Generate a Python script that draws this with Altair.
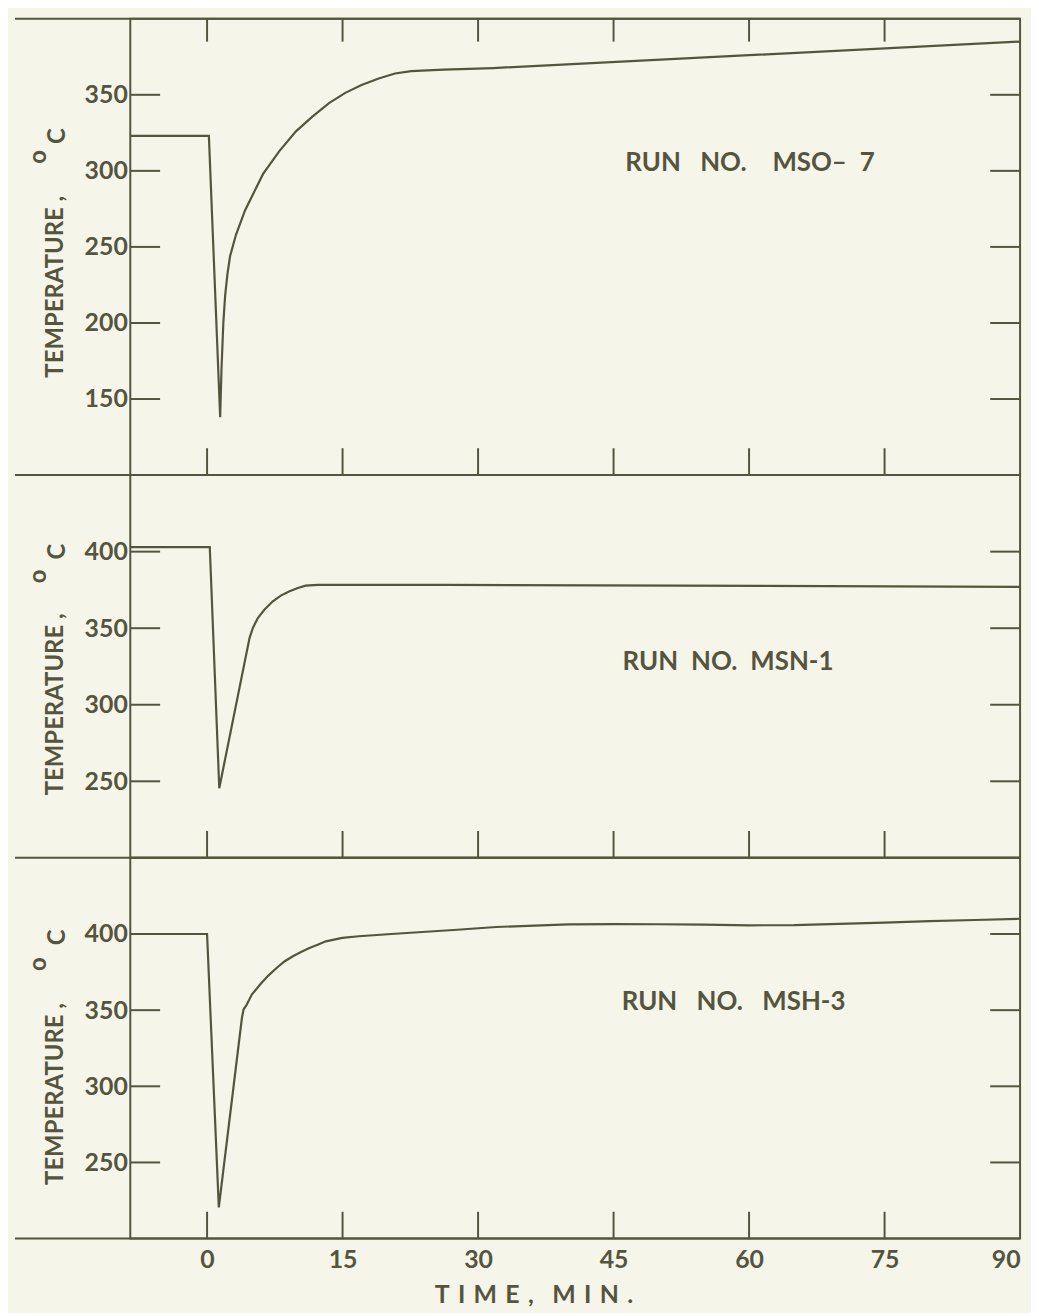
import altair as alt
import pandas as pd

# ---------------- data ----------------
time_ticks = [0, 15, 30, 45, 60, 75]
time_labels = [0, 15, 30, 45, 60, 75, 90]

mso7_t = [-8.5, 0.2, 1.45, 1.6, 1.8, 2.0, 2.25, 2.55, 3.2, 4.2, 6.2, 8.0, 9.84, 11.66,
          13.5, 15.3, 17.1, 19.0, 20.8, 22.6, 26.2, 31.7, 90.0]
mso7_T = [323, 323, 138, 170, 200, 218, 232, 244, 258, 274, 298, 313, 326, 335.7,
          344.6, 351.3, 356.5, 360.7, 364, 365.6, 366.6, 367.6, 385]

msn1_t = [-8.5, 0.3, 1.35, 4.7, 5.06, 5.6, 6.34, 7.25, 8.16, 9.07, 9.98, 10.9, 12.3, 26.5, 90.0]
msn1_T = [403, 403, 245.5, 343.5, 350, 356.5, 362, 367.4, 371.3, 374, 376.1, 377.8, 378.3, 378.3, 377]

msh3_t = [-8.5, 0.0, 1.3, 3.86, 4.04, 4.4, 4.95, 5.87, 6.78, 7.69, 8.6, 9.5, 10.4, 11.33,
          12.24, 13.15, 14.97, 16.8, 20.4, 27.7, 32, 40, 45, 50, 55, 60, 65, 70, 75, 80, 85, 90]
msh3_T = [400, 400, 220.5, 345, 350.4, 353.7, 360.2, 366.8, 372.7, 377.7, 382.1, 385.4, 388.2, 390.8,
          393, 395.2, 397.4, 398.5, 400, 402.8, 404.6, 406.3, 406.5, 406.4, 406.1, 405.7, 405.8,
          406.6, 407.5, 408.4, 409.2, 410]

ticks_mso7 = [150, 200, 250, 300, 350]
ticks_msn1 = [250, 300, 350, 400]
ticks_msh3 = [250, 300, 350, 400]

run_labels = ["RUN\u2002\u2005NO.\u2002\u2002MSO–\u2005\u20057",
              "RUN\u2002NO.\u2002MSN-1",
              "RUN\u2002\u2005NO.\u2002\u2005MSH-3"]
run_label_t = [46.3, 46.0, 45.9]
run_label_T = [305, 328, 355]

y_title = "TEMPERATURE ,"
TS = "\u2004"
x_title = TS.join("TIME,") + "\u2003" + TS.join("MIN.")

# ---------------- style ----------------
INK = "#55553f"
BG = "#f6f5ea"
FONT = "Lato"
WT = "bold"
W = 895
xscale = alt.Scale(domain=[-8.5, 90], nice=False, zero=False)
one = pd.DataFrame({"k": [0]})


def panel(t, T, ydom, yticks, H, label, lt, lT, top_ticks, bottom, tb, to, tc):
    yscale = alt.Scale(domain=ydom, nice=False, zero=False)
    df = pd.DataFrame({"t": t, "T": T})
    if bottom:
        xaxis = alt.Axis(values=time_labels, ticks=False, domain=False, grid=False,
                         labelFontSize=25, labelFont=FONT, labelColor=INK,
                         labelFontWeight=WT,
                         labelPadding=9, labelFlush=True, title=None)
    else:
        xaxis = None
    yaxis = alt.Axis(values=yticks, ticks=False, domain=False, grid=False,
                     labelFontSize=25, labelFont=FONT, labelColor=INK,
                     labelFontWeight=WT,
                     labelPadding=3, title=None)

    def X():
        return alt.X("t:Q", scale=xscale, axis=xaxis)

    def Y():
        return alt.Y("T:Q", scale=yscale, axis=yaxis)

    line = alt.Chart(df).mark_line(color=INK, strokeWidth=2.2).encode(x=X(), y=Y())
    xt = pd.DataFrame({"t": time_ticks})
    yt = pd.DataFrame({"T": yticks})
    layers = [line]
    layers.append(alt.Chart(xt).mark_rule(color=INK, strokeWidth=2).encode(
        x=X(), y=alt.value(H - 27), y2=alt.value(H)))
    if top_ticks:
        layers.append(alt.Chart(xt).mark_rule(color=INK, strokeWidth=2).encode(
            x=X(), y=alt.value(0), y2=alt.value(23)))
    layers.append(alt.Chart(yt).mark_rule(color=INK, strokeWidth=2).encode(
        y=Y(), x=alt.value(0), x2=alt.value(30)))
    layers.append(alt.Chart(yt).mark_rule(color=INK, strokeWidth=2).encode(
        y=Y(), x=alt.value(W - 30), x2=alt.value(W)))
    layers.append(alt.Chart(one).mark_rule(color=INK, strokeWidth=2).encode(
        x=alt.value(-116), x2=alt.value(W), y=alt.value(0)))
    if bottom:
        layers.append(alt.Chart(one).mark_rule(color=INK, strokeWidth=2).encode(
            x=alt.value(-116), x2=alt.value(W), y=alt.value(H)))
        layers.append(alt.Chart(one).mark_text(
            color=INK, font=FONT, fontSize=25, fontWeight="bold",
            align="center", baseline="middle").encode(
            x=alt.value(406), y=alt.value(H + 57), text=alt.value(x_title)))
    lab = pd.DataFrame({"t": [lt], "T": [lT], "label": [label]})
    layers.append(alt.Chart(lab).mark_text(
        color=INK, font=FONT, fontSize=26, fontWeight=WT,
        align="left", baseline="middle").encode(
        x=X(), y=Y(), text="label:N"))
    # y-axis title pieces
    layers.append(alt.Chart(one).mark_text(
        color=INK, font=FONT, fontSize=24, fontWeight=WT, angle=270, align="left",
        baseline="middle").encode(
        x=alt.value(-75), y=alt.value(tb), text=alt.value(y_title)))
    layers.append(alt.Chart(one).mark_text(
        color=INK, font=FONT, fontSize=24, fontWeight=WT, angle=270, align="center",
        baseline="middle").encode(
        x=alt.value(-92), y=alt.value(to), text=alt.value("o")))
    layers.append(alt.Chart(one).mark_text(
        color=INK, font=FONT, fontSize=24, fontWeight=WT, angle=270, align="center",
        baseline="middle").encode(
        x=alt.value(-73), y=alt.value(tc), text=alt.value("C")))
    return alt.layer(*layers).properties(width=W, height=H)


p1 = panel(mso7_t, mso7_T, [100, 400], ticks_mso7, 459, run_labels[0],
           run_label_t[0], run_label_T[0], True, False, 361, 139, 118)
p2 = panel(msn1_t, msn1_T, [200, 450], ticks_msn1, 385, run_labels[1],
           run_label_t[1], run_label_T[1], False, False, 322, 102, 77)
p3 = panel(msh3_t, msh3_T, [200, 450], ticks_msh3, 383, run_labels[2],
           run_label_t[2], run_label_T[2], False, True, 329, 107, 80)

chart = alt.vconcat(p1, p2, p3, spacing=0, bounds="flush").configure_view(
    stroke=INK, strokeWidth=2
).properties(
    background=BG,
    padding={"left": 5, "top": 5, "right": 5, "bottom": 0},
)

chart.save("out.html", embed_options={"renderer": "svg", "actions": False})
